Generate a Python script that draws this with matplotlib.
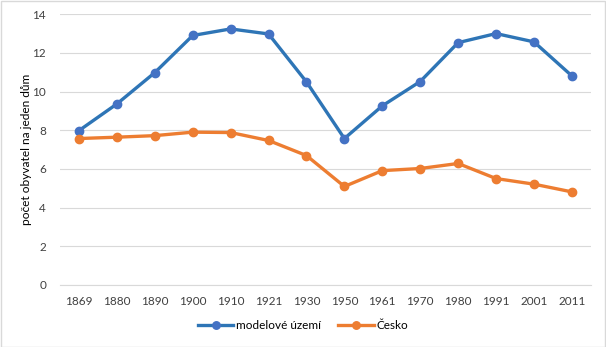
import matplotlib.pyplot as plt

# data
years = ['1869', '1880', '1890', '1900', '1910', '1921', '1930',
         '1950', '1961', '1970', '1980', '1991', '2001', '2011']
model_area = [7.98, 9.36, 10.98, 12.9, 13.24, 12.98, 10.5,
              7.57, 9.26, 10.52, 12.53, 13.0, 12.57, 10.81]
czechia = [7.57, 7.64, 7.72, 7.9, 7.88, 7.47, 6.69,
           5.09, 5.91, 6.02, 6.28, 5.5, 5.21, 4.81]

plt.rcParams['font.family'] = ['Lato', 'DejaVu Sans']

fig = plt.figure(figsize=(6.06, 3.47), dpi=100)
ax = fig.add_axes([0.099, 0.179, 0.876, 0.78])

x = range(len(years))
ax.plot(x, model_area, color='#2E75B6', lw=2.4, marker='o', ms=6,
        mfc='#4472C4', mec='#4472C4', label='modelové území', zorder=3)
ax.plot(x, czechia, color='#ED7D31', lw=2.4, marker='o', ms=6,
        mfc='#ED7D31', mec='#ED7D31', label='Česko', zorder=3)

ax.set_xlim(-0.5, len(years) - 0.5)
ax.set_ylim(0, 14)
ax.set_yticks(range(0, 15, 2))
ax.set_xticks(list(x))
ax.set_xticklabels(years)
ax.grid(axis='y', color='#D9D9D9', lw=0.8)
ax.set_axisbelow(True)
for s in ['top', 'right', 'left']:
    ax.spines[s].set_visible(False)
ax.spines['bottom'].set_color('#D9D9D9')
ax.tick_params(length=0, labelsize=8.5, colors='#404040', pad=8)
ax.tick_params(axis='y', pad=10)
ax.set_ylabel('počet obyvatel na jeden dům', fontsize=8.6, color='#000000', labelpad=0)

fig.legend(loc='lower center', bbox_to_anchor=(0.5, 0.015), ncol=2, frameon=False,
           fontsize=8.5, handlelength=3, columnspacing=1.5, handletextpad=0.2,
           markerscale=0.9)

# light border around the figure
fig.patches.append(plt.Rectangle((0.001, 0.001), 0.997, 0.997, transform=fig.transFigure,
                                 fill=False, edgecolor='#D9D9D9', lw=1))

plt.savefig('out.png')
